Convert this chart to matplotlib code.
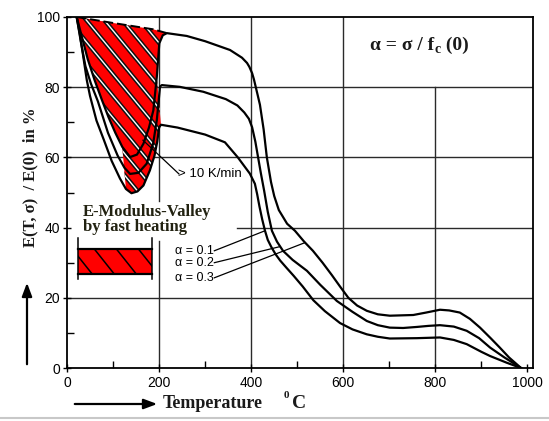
import numpy as np
import matplotlib
matplotlib.use('Agg')
import matplotlib.pyplot as plt
from matplotlib.patches import Polygon, FancyArrowPatch
from matplotlib.lines import Line2D

# ---------------- data ----------------
alpha_labels = ['α = 0.1', 'α = 0.2', 'α = 0.3']

# alpha = 0.1 (lowest curve, deepest valley)
a1_x = [21, 28, 35, 43, 50, 64, 80, 97, 115, 128, 140, 153, 166, 180, 190, 196, 200, 204,
        240, 300, 343, 371, 397, 408, 413, 418, 424, 430, 436, 444, 453, 463, 477, 492, 512,
        535, 560, 593, 620, 651, 675, 701, 760, 810, 840, 868, 900, 919, 955, 986]
a1_y = [100, 95, 89, 82, 77.5, 70.5, 65, 59, 54, 51, 49.8, 50.3, 52, 56.3, 60.5, 64.5, 68.5, 69.3,
        68.5, 66.5, 64.3, 60, 55.4, 52.5, 49.5, 46, 42.3, 39.1, 36.5, 34.4, 32.4, 30.6, 28.5, 26.3, 23.2,
        19.3, 16.2, 12.8, 11.0, 9.6, 8.9, 8.4, 8.5, 8.7, 8.0, 6.8, 4.6, 3.4, 1.5, 0]

# alpha = 0.2 (middle curve)
a2_x = [21, 30, 40, 52, 67, 89, 110, 125, 137, 155, 173, 187, 195, 199, 202, 206,
        245, 296, 345, 370, 385, 395, 402, 409, 415, 421, 428, 436, 445, 456, 469, 490, 521, 550,
        586, 620, 651, 675, 701, 730, 760, 785, 810, 840, 868, 895, 919, 950, 986]
a2_y = [100, 93, 86, 81, 76, 67, 60.5, 57, 55.3, 55.6, 58.2, 63.9, 70.6, 76, 80.2, 80.6,
        80.1, 78.7, 76.6, 74.8, 72.8, 71.0, 68.6, 64.5, 60, 55.5, 50.6, 44.5, 39.1, 36, 33.4, 30.8, 27.7, 23.7,
        19.1, 16, 13.4, 12.2, 11.5, 11.4, 11.7, 12.0, 12.2, 11.8, 10.6, 8.5, 5.8, 3, 0]

# alpha = 0.3 (upper curve, shallow valley)
a3_x = [21, 33, 45, 60, 76, 90, 105, 120, 137, 152, 166, 178, 187.5, 195, 200.5, 208,
        217, 260, 300, 354, 380, 391, 396, 402, 406, 410, 414, 419, 427, 434, 443, 450, 460, 478, 495, 515,
        534, 555, 575, 593, 611, 630, 651, 675, 701, 752, 780, 810, 830, 853, 875, 897, 920, 940, 960, 986]
a3_y = [100, 94, 88, 82, 76.3, 71.5, 67, 63, 60.1, 60.8, 63.9, 68.5, 73.4, 82.9, 92.5, 94.8,
        95.4, 94.6, 93.1, 90.6, 88.4, 86.9, 85.8, 84, 82.2, 80, 77.8, 75, 68, 60, 53, 49, 45, 41.1, 39.1, 36,
        33.4, 30, 26.5, 23.2, 20.0, 17.8, 16.3, 15.3, 14.9, 15.1, 15.8, 16.6, 16.4, 15.8, 14.0, 11.5, 8.5, 5.8, 3.0, 0]

# dashed upper boundary of the valley region
valley_top_x = [21, 100, 187, 217]
valley_top_y = [100, 98.3, 96.5, 95.4]

# label positions / leader targets
alpha_label_y = [33.4, 30.0, 25.7]
alpha_leader_x = [430, 463, 517]

x_ticks = [0, 200, 400, 600, 800, 1000]
y_ticks = [0, 20, 40, 60, 80, 100]
x_minor = [100, 300, 500, 700, 900]
y_minor = [10, 30, 50, 70, 90]

# ---------------- figure ----------------
plt.rcParams['font.family'] = ['Liberation Serif', 'DejaVu Serif']

W, H = 549, 421
fig = plt.figure(figsize=(W / 100, H / 100), dpi=100)
ax = fig.add_axes([67 / W, 53 / H, 466 / W, 351 / H])
ax.set_xlim(0, 1012)
ax.set_ylim(0, 100)

GRID = '#2a2a2a'
glw = 1.0
# vertical grid lines (with gaps where the original has text)
ax.plot([200, 200], [0, 36.3], color=GRID, lw=glw, zorder=1)
ax.plot([200, 200], [47.7, 100], color=GRID, lw=glw, zorder=1)
ax.plot([400, 400], [0, 100], color=GRID, lw=glw, zorder=1)
ax.plot([600, 600], [0, 100], color=GRID, lw=glw, zorder=1)
ax.plot([800, 800], [0, 80], color=GRID, lw=glw, zorder=1)
# horizontal grid lines
ax.plot([0, 1012], [20, 20], color=GRID, lw=glw, zorder=1)
ax.plot([369, 1012], [40, 40], color=GRID, lw=glw, zorder=1)
ax.plot([0, 1012], [60, 60], color=GRID, lw=glw, zorder=1)
ax.plot([0, 1012], [80, 80], color=GRID, lw=glw, zorder=1)

# ---------------- red hatched valley region ----------------
a1 = np.array([a1_x, a1_y]).T
a3 = np.array([a3_x, a3_y]).T
top = np.array([valley_top_x, valley_top_y]).T
left_part = a3[a3[:, 0] <= 120]
bottom_part = a1[(a1[:, 0] >= 128) & (a1[:, 0] <= 204)]
rise_part = a3[(a3[:, 0] >= 195) & (a3[:, 0] <= 217) & (a3[:, 1] > 80)]
poly_pts = np.vstack([top, rise_part[::-1][1:], bottom_part[::-1], left_part[::-1]])
red = Polygon(poly_pts, closed=True, facecolor='#ff0000', edgecolor='none', zorder=2)
ax.add_patch(red)

slope = -0.159
for c in np.arange(50, 145, 6.2):
    xs = np.array([-50, 400])
    l1, = ax.plot(xs, c + slope * xs, color='#111111', lw=3.2, zorder=3, solid_capstyle='butt')
    l2, = ax.plot(xs, c + slope * xs, color='white', lw=1.0, zorder=3, solid_capstyle='butt')
    l1.set_clip_path(red)
    l2.set_clip_path(red)

ax.plot(valley_top_x, valley_top_y, color='black', lw=1.4, ls=(0, (5, 2)), zorder=4)

# ---------------- curves ----------------
curves = [(a1_x, a1_y), (a2_x, a2_y), (a3_x, a3_y)]
for xs, ys in curves:
    ax.plot(xs, ys, color='black', lw=1.6, zorder=5, solid_joinstyle='round')

# ---------------- annotations ----------------
SANS = ['Liberation Sans Narrow', 'Liberation Sans', 'DejaVu Sans']
for lab, ly, lx, (cx, cy) in zip(alpha_labels, alpha_label_y, alpha_leader_x, curves):
    ax.text(318, ly, lab, ha='right', va='center', fontsize=9, family=SANS, zorder=6)
    ty = np.interp(lx, cx, cy)
    ax.plot([320, lx], [ly, ty], color='black', lw=0.9, zorder=6)

ax.plot([165, 243], [64.9, 55.3], color='black', lw=0.9, zorder=6)
ax.text(240, 55.3, '> 10 K/min', ha='left', va='center', fontsize=9.5, family=SANS, zorder=6)

TXT = '#222211'
ax.text(35, 43.4, 'E-Modulus-Valley', ha='left', va='baseline', fontsize=12,
        fontweight='bold', color=TXT, zorder=6)
ax.text(35, 39.0, 'by fast heating', ha='left', va='baseline', fontsize=12,
        fontweight='bold', color=TXT, zorder=6)

# legend box of the hatched region
box = Polygon([[24, 26.9], [185, 26.9], [185, 34], [24, 34]], closed=True,
              facecolor='#ff0000', edgecolor='none', zorder=5)
ax.add_patch(box)
for c in np.arange(20, 75, 7.9):
    xs = np.array([0, 250])
    hl, = ax.plot(xs, c - 0.165 * xs, color='black', lw=1.1, zorder=6)
    hl.set_clip_path(box)
ax.plot([24, 185], [34, 34], color='black', lw=1.6, zorder=7)
ax.plot([24, 185], [26.9, 26.9], color='black', lw=1.6, zorder=7)
ax.plot([24, 24], [25.3, 37.0], color='black', lw=1.1, zorder=7)
ax.plot([185, 185], [25.3, 37.0], color='black', lw=1.1, zorder=7)

# formula alpha = sigma / f_c (0), built from pieces
t1 = ax.text(658, 90.6, 'α = σ / f', ha='left', va='baseline', fontsize=14,
             fontweight='bold', color='#1a1a1a', zorder=6)
t2 = ax.annotate('c', xy=(1, 0), xycoords=t1, xytext=(0.5, -1.5), textcoords='offset points',
                 ha='left', va='bottom', fontsize=10, fontweight='bold', color='#1a1a1a', zorder=6)
t3 = ax.annotate(' (0)', xy=(1, 0), xycoords=(t2, t1), xytext=(0, 0), textcoords='offset points',
                 ha='left', va='bottom', fontsize=14, fontweight='bold', color='#1a1a1a', zorder=6)

# ---------------- axes styling ----------------
for s in ax.spines.values():
    s.set_linewidth(1.3)
    s.set_color('black')
ax.set_xticks(x_ticks)
ax.set_yticks(y_ticks)
ax.set_xticks(x_minor, minor=True)
ax.set_yticks(y_minor, minor=True)
ax.set_xticklabels([str(v) for v in x_ticks], family=SANS, fontsize=10)
ax.set_yticklabels([str(v) for v in y_ticks], family=SANS, fontsize=10)
ax.tick_params(which='major', direction='inout', length=6, width=1.0, pad=2)
ax.tick_params(axis='x', which='major', pad=3)
ax.tick_params(which='minor', direction='in', length=5, width=1.0)

# y label and arrows (figure coordinates)
fig.text(30 / W, 1 - 177 / H, 'E(T, σ)  / E(0)  in %', rotation=90, ha='center', va='center',
         fontsize=12, fontweight='bold', color='#1a1a1a')
fig.patches.append(FancyArrowPatch(
    (27 / W, 1 - 367 / H), (27 / W, 1 - 280 / H), transform=fig.transFigure,
    arrowstyle='-|>,head_length=8,head_width=3', lw=1.6, color='black', mutation_scale=1))
fig.patches.append(FancyArrowPatch(
    (72 / W, 1 - 404 / H), (160 / W, 1 - 404 / H), transform=fig.transFigure,
    arrowstyle='-|>,head_length=8,head_width=3', lw=1.6, color='black', mutation_scale=1))
fig.text(163 / W, 1 - 404 / H, 'Temperature', ha='left', va='center', fontsize=13,
         fontweight='bold', color='#1a1a1a')
fig.text(284 / W, 1 - 395 / H, '0', ha='left', va='center', fontsize=8,
         fontweight='bold', color='#1a1a1a')
fig.text(292 / W, 1 - 404 / H, 'C', ha='left', va='center', fontsize=14,
         fontweight='bold', color='#1a1a1a')

# faint frame shadow at bottom of the image
fig.add_artist(Line2D([0, 1], [1 - 418 / H, 1 - 418 / H],
                      transform=fig.transFigure, color='#c8c8c8', lw=1.5))

fig.savefig('out.png', dpi=100)
